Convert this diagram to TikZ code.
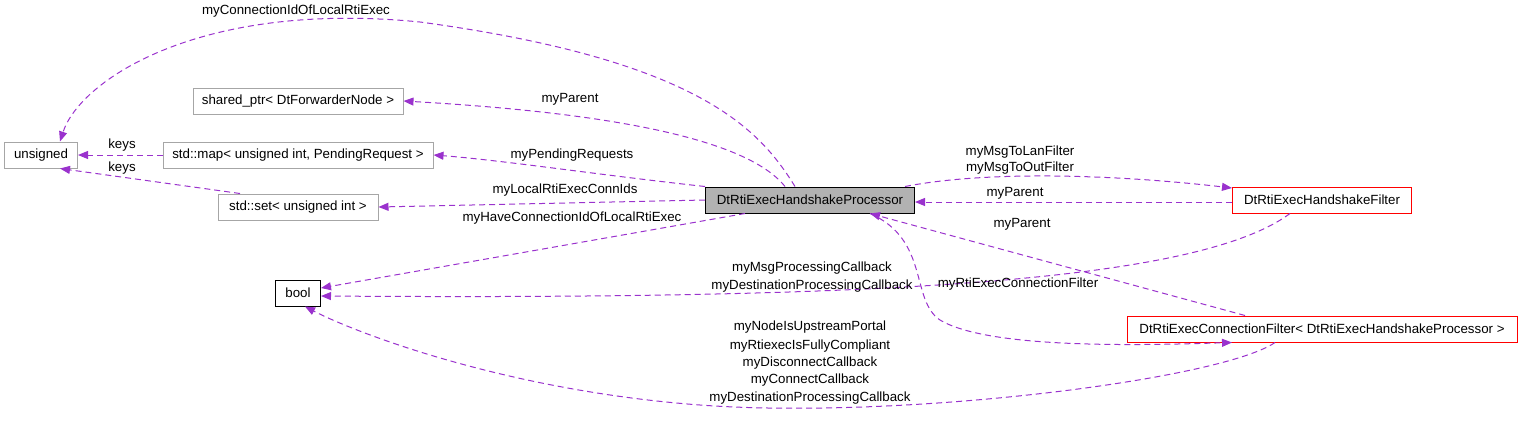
\documentclass[tikz,border=0pt]{standalone}
\usepackage{fontspec}
\setmainfont{Liberation Sans}
\usetikzlibrary{arrows.meta}
\definecolor{ep}{HTML}{9A32CD}
\begin{document}
\begin{tikzpicture}[x=1pt,y=-1pt,
 box/.style={draw=#1,line width=1pt,rectangle,minimum height=26pt,inner xsep=6pt,font=\fontsize{13.3}{15}\selectfont},
 e/.style={draw=ep,line width=1pt,dash pattern=on 6pt off 4pt,-{Triangle[length=10pt,width=8pt]},fill=none},
 lb/.style={font=\fontsize{13.3}{15}\selectfont,align=center}]
\useasboundingbox (0,0) rectangle (1523,421);
\node[box=gray!70,minimum width=73pt] (u) at (41,155) {unsigned};
\node[box=gray!70,minimum width=210pt] (sp) at (298,101) {shared\_ptr< DtForwarderNode >};
\node[box=gray!70,minimum width=270pt] (map) at (298,155) {std::map< unsigned int, PendingRequest >};
\node[box=gray!70,minimum width=160pt] (set) at (298,207) {std::set< unsigned int >};
\node[box=black,fill=gray!60,minimum width=209pt] (p) at (810,200) {DtRtiExecHandshakeProcessor};
\node[box=red,minimum width=179pt] (f) at (1322,200) {DtRtiExecHandshakeFilter};
\node[box=black,minimum width=45pt] (b) at (298,293) {bool};
\node[box=red,minimum width=390pt] (cf) at (1322,329) {DtRtiExecConnectionFilter< DtRtiExecHandshakeProcessor >};

\draw[e] (p.north -| 795,0) .. controls (760,130) and (700,60) .. (420,22) .. controls (200,0) and (80,80) .. (u.north -| 60,0);
\node[lb] at (296,11) {myConnectionIdOfLocalRtiExec};
\draw[e] (p.north -| 785,0) .. controls (740,130) and (560,110) .. (sp.east);
\node[lb] at (570,99) {myParent};
\draw[e] (p.north west) .. controls (600,175) and (500,160) .. (map.east);
\node[lb] at (572,155) {myPendingRequests};
\draw[e] (p.west) -- (set.east);
\node[lb] at (565,190) {myLocalRtiExecConnIds};
\draw[e] (p.south -| 745,0) -- (b.east |- 0,288);
\node[lb] at (572,218) {myHaveConnectionIdOfLocalRtiExec};
\draw[e] (map.west) -- (u.east);
\node[lb] at (122,145) {keys};
\draw[e] (set.north -| 240,0) -- (u.south -| 60,0);
\node[lb] at (122,168) {keys};
\draw[e] (p.north -| 905,0) .. controls (990,170) and (1120,175) .. (f.west |- 0,188);
\node[lb] at (1020,152) {myMsgToLanFilter};
\node[lb] at (1020,168) {myMsgToOutFilter};
\draw[e] (f.west |- 0,202) -- (p.east |- 0,202);
\node[lb] at (1015,193) {myParent};
\draw[e] (f.south -| 1290,0) .. controls (1200,280) and (900,300) .. (b.east |- 0,296);
\node[lb] at (812,268) {myMsgProcessingCallback};
\node[lb] at (812,286) {myDestinationProcessingCallback};
\draw[e] (cf.north -| 1245,0) -- (p.south -| 870,0);
\node[lb] at (1022,224) {myParent};
\draw[e] (p.south -| 870,0) .. controls (930,240) and (910,300) .. (940,320) .. controls (990,350) and (1150,345) .. (cf.south -| 1232,0);
\node[lb] at (1018,284) {myRtiExecConnectionFilter};
\draw[e] (cf.south -| 1275,0) .. controls (1220,380) and (900,420) .. (700,405) .. controls (500,390) and (350,330) .. (b.south -| 305,0);
\node[lb] at (810,327) {myNodeIsUpstreamPortal};
\node[lb] at (810,346) {myRtiexecIsFullyCompliant};
\node[lb] at (810,363) {myDisconnectCallback};
\node[lb] at (810,380) {myConnectCallback};
\node[lb] at (810,398) {myDestinationProcessingCallback};
\end{tikzpicture}
\end{document}
